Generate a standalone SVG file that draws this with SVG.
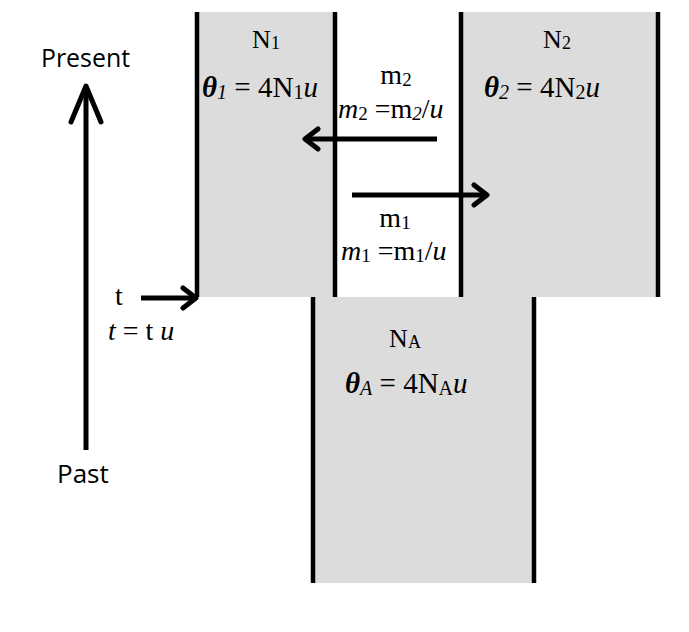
<svg xmlns="http://www.w3.org/2000/svg" width="689" height="632" viewBox="0 0 689 632">
<style>
.pop{fill:#dcdcdc;stroke:none}
.edge{stroke:#000;stroke-width:4.5;fill:none}
.arr{stroke:#000;stroke-width:5;fill:none}
.serif{font-family:"Liberation Serif","Times New Roman",serif;fill:#000}
.lbl{font-size:26px}
.eq{font-size:29px}
.meq{font-size:28px}
.sans{font-family:"Open Sans","Noto Sans",sans-serif;font-size:26px;fill:#000}
.th{font-style:italic;font-weight:bold}
.it{font-style:italic}
</style>
<defs>
<marker id="chev" markerUnits="userSpaceOnUse" viewBox="-18 -13 22 26" refX="0" refY="0" markerWidth="22" markerHeight="26" orient="auto">
<path d="M-13,-10 L0,0 L-13,10" stroke="#000" stroke-width="5" fill="none" stroke-linecap="round" stroke-linejoin="round"/>
</marker>
<marker id="chevTall" markerUnits="userSpaceOnUse" viewBox="-40 -18 44 36" refX="0" refY="0" markerWidth="44" markerHeight="36" orient="auto">
<path d="M-36,-15 L0,0 L-36,15" stroke="#000" stroke-width="5" fill="none" stroke-linecap="round" stroke-linejoin="round"/>
</marker>
</defs>
<rect width="689" height="632" fill="#fff"/>
<g id="pop-N1">
<rect class="pop" x="197" y="12" width="138" height="285"/>
<line class="edge" x1="197" y1="12" x2="197" y2="297"/>
<line class="edge" x1="335" y1="12" x2="335" y2="297"/>
<text class="serif lbl" x="266" y="48" text-anchor="middle">N<tspan font-size="18" dy="1">1</tspan></text>
<text class="serif eq" x="202" y="97"><tspan class="th">θ</tspan><tspan class="it" font-size="20" dy="2">1</tspan><tspan dy="-2"> = 4N</tspan><tspan font-size="20" dy="2">1</tspan><tspan class="it" dy="-2">u</tspan></text>
</g>
<g id="pop-N2">
<rect class="pop" x="461" y="12" width="197" height="285"/>
<line class="edge" x1="461" y1="12" x2="461" y2="297"/>
<line class="edge" x1="658" y1="12" x2="658" y2="297"/>
<text class="serif lbl" x="557" y="48" text-anchor="middle">N<tspan font-size="18" dy="1">2</tspan></text>
<text class="serif eq" x="484" y="97"><tspan class="th">θ</tspan><tspan class="it" font-size="20" dy="2">2</tspan><tspan dy="-2"> = 4N</tspan><tspan font-size="20" dy="2">2</tspan><tspan class="it" dy="-2">u</tspan></text>
</g>
<g id="pop-NA">
<rect class="pop" x="313" y="297" width="221" height="286"/>
<line class="edge" x1="313" y1="297" x2="313" y2="583"/>
<line class="edge" x1="534" y1="297" x2="534" y2="583"/>
<text class="serif lbl" x="405" y="347" text-anchor="middle">N<tspan font-size="18" dy="1">A</tspan></text>
<text class="serif eq" x="345" y="393"><tspan class="th">θ</tspan><tspan class="it" font-size="20" dy="2">A</tspan><tspan dy="-2"> = 4N</tspan><tspan font-size="20" dy="2">A</tspan><tspan class="it" dy="-2">u</tspan></text>
</g>
<g id="mig-labels">
<text class="serif meq" x="396" y="84" text-anchor="middle">m<tspan font-size="19" dy="2">2</tspan></text>
<text class="serif meq" x="338" y="118"><tspan class="it">m</tspan><tspan font-size="19" dy="2">2</tspan><tspan dy="-2"> =m</tspan><tspan class="it" font-size="19" dy="2">2</tspan><tspan dy="-2">/</tspan><tspan class="it">u</tspan></text>
<text class="serif meq" x="395" y="227" text-anchor="middle">m<tspan font-size="19" dy="2">1</tspan></text>
<text class="serif meq" x="341" y="260"><tspan class="it">m</tspan><tspan font-size="19" dy="2">1</tspan><tspan dy="-2"> =m</tspan><tspan font-size="19" dy="2">1</tspan><tspan dy="-2">/</tspan><tspan class="it">u</tspan></text>
</g>
<g id="time-axis">
<text class="sans" x="41" y="67" textLength="89" lengthAdjust="spacingAndGlyphs">Present</text>
<text class="sans" x="57" y="483">Past</text>
<text class="serif meq" x="115" y="305">t</text>
<text class="serif meq" x="108" y="340"><tspan class="it">t</tspan> = t <tspan class="it">u</tspan></text>
</g>
<g id="connectors">
<line class="arr" x1="437" y1="139" x2="305" y2="139" marker-end="url(#chev)"/>
<line class="arr" x1="352" y1="195" x2="487" y2="195" marker-end="url(#chev)"/>
<line class="arr" x1="141" y1="298" x2="196" y2="298" marker-end="url(#chev)"/>
<line class="arr" x1="86" y1="450" x2="86" y2="86" marker-end="url(#chevTall)"/>
</g>
</svg>
